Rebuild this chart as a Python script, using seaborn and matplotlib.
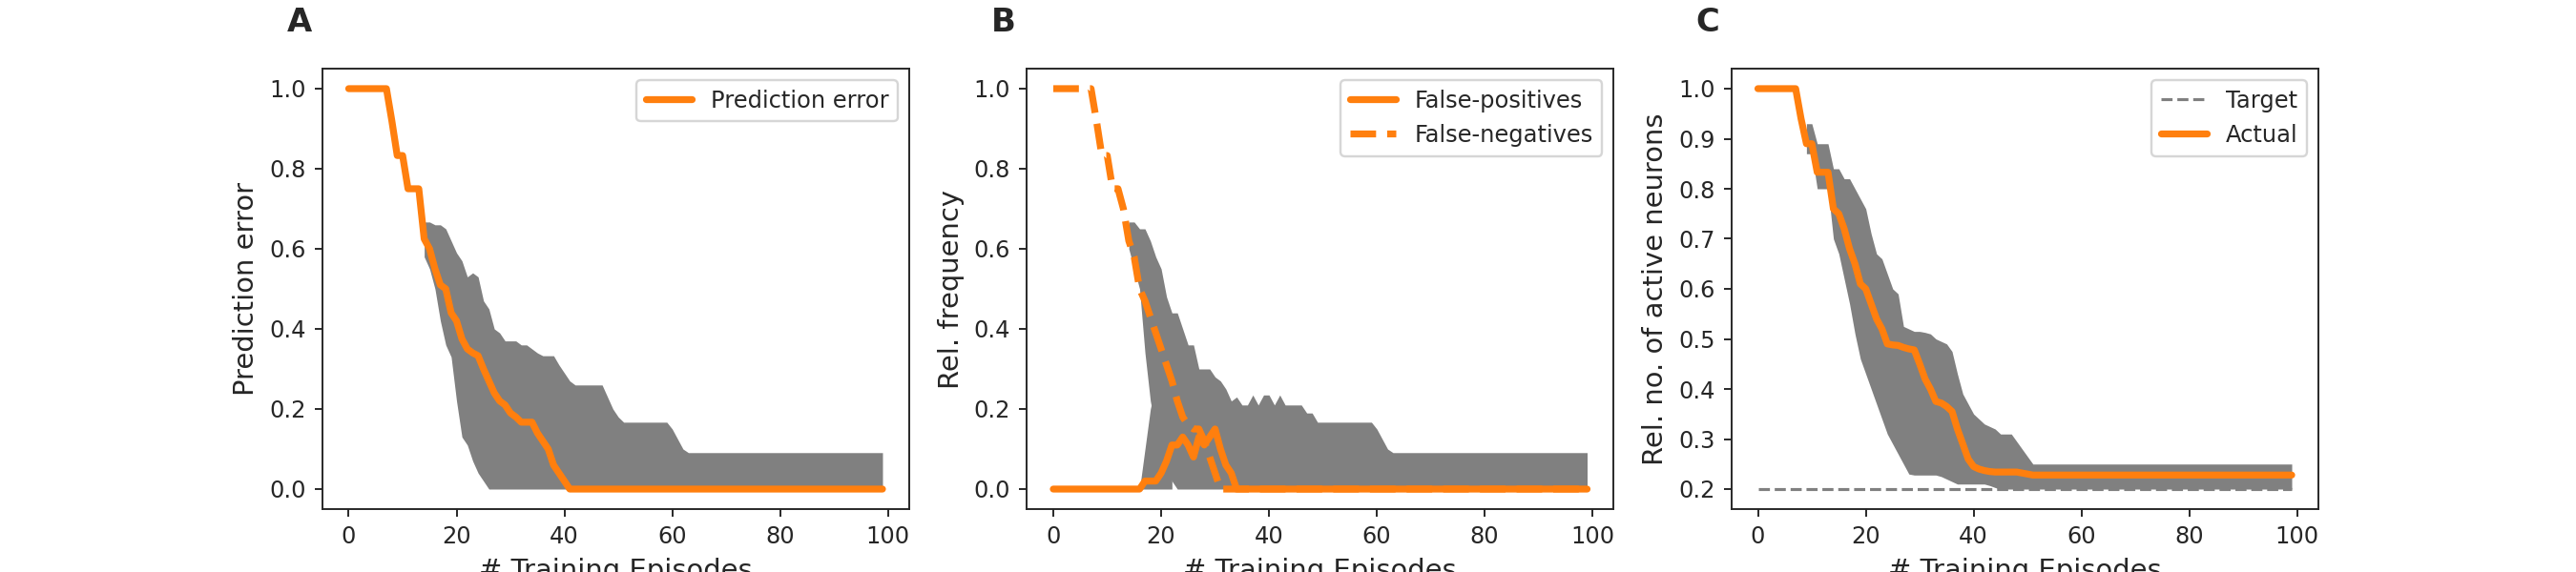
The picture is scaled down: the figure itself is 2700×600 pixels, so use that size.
import numpy as np
import matplotlib
matplotlib.use("Agg")
import matplotlib.pyplot as plt
import seaborn as sns

episodes = list(range(100))

# Panel A
pred_mean = [1.0]*8 + [0.92, 0.833, 0.833, 0.75, 0.75, 0.75] + \
    [0.625, 0.6, 0.55, 0.51, 0.5, 0.44, 0.42, 0.375, 0.35, 0.34, 0.333, 0.3, 0.27, 0.24,
     0.22, 0.21, 0.19, 0.18, 0.167, 0.167, 0.167, 0.14, 0.12, 0.1, 0.06, 0.04, 0.02] + [0.0]*59
a_band_start = 14
pred_hi = [0.667, 0.667, 0.66, 0.66, 0.65, 0.62, 0.59, 0.57, 0.53, 0.54, 0.53, 0.47, 0.45, 0.40,
           0.39, 0.37, 0.37, 0.37, 0.36, 0.36, 0.35, 0.34, 0.333, 0.333, 0.333, 0.31, 0.29, 0.27] + \
    [0.26]*6 + [0.23, 0.2, 0.18] + [0.167]*9 + [0.15, 0.125, 0.1] + [0.091]*37
pred_lo = [0.58, 0.55, 0.5, 0.42, 0.36, 0.33, 0.22, 0.13, 0.11, 0.07, 0.04, 0.02] + [0.0]*74

# Panel B
fp_mean = [0.0]*17 + [0.02, 0.02, 0.02, 0.04, 0.07, 0.11, 0.11, 0.13, 0.11, 0.08, 0.13, 0.11,
                      0.13, 0.15, 0.1, 0.06, 0.04] + [0.0]*66
fn_mean = [1.0]*8 + [0.92, 0.833, 0.833, 0.75, 0.75, 0.7, 0.62, 0.58, 0.5, 0.47, 0.43, 0.39, 0.35,
                     0.31, 0.27, 0.22, 0.18, 0.16, 0.15, 0.15, 0.12, 0.08, 0.04] + [0.0]*69
b_band_start = 14
fn_hi = [0.667, 0.667, 0.65, 0.65, 0.62, 0.58, 0.55, 0.48, 0.44, 0.44, 0.4, 0.36, 0.36, 0.3, 0.3,
         0.3, 0.28, 0.27, 0.25, 0.22, 0.23, 0.21, 0.21, 0.235, 0.21, 0.235, 0.235, 0.21, 0.235, 0.21] + \
    [0.21]*3 + [0.19, 0.19] + [0.167]*11 + [0.15, 0.125, 0.1] + [0.091]*37
fn_lo = [0.6, 0.55, 0.5, 0.34, 0.22, 0.15, 0.1, 0.05, 0.02] + [0.0]*77
fp_band_start = 16
fp_hi = [0.0, 0.1, 0.2, 0.26, 0.3, 0.3, 0.3]
fp_lo = [0.0]*7

# Panel C
act_mean = [1.0]*8 + [0.94, 0.89, 0.89, 0.833, 0.833, 0.833, 0.76, 0.75, 0.72, 0.68, 0.65, 0.61, 0.6,
                      0.57, 0.54, 0.52, 0.49, 0.488, 0.487, 0.483, 0.48, 0.478, 0.45, 0.42, 0.4, 0.375,
                      0.372, 0.365, 0.355, 0.32, 0.29, 0.26, 0.245, 0.24, 0.237, 0.235] + \
    [0.234]*5 + [0.232, 0.23] + [0.228]*49
c_band_start = 9
act_hi = [0.93, 0.93, 0.89, 0.89, 0.89, 0.84, 0.84, 0.82, 0.82, 0.8, 0.78, 0.76, 0.71, 0.67, 0.66,
          0.63, 0.6, 0.59, 0.525, 0.52, 0.515, 0.515, 0.513, 0.51, 0.5, 0.495, 0.49, 0.475, 0.43,
          0.39, 0.37, 0.35, 0.34, 0.33, 0.325, 0.32] + [0.31]*3 + [0.295, 0.28, 0.265, 0.25] + [0.25]*48
act_lo = [0.87, 0.87, 0.8, 0.8, 0.8, 0.7, 0.67, 0.62, 0.57, 0.51, 0.46, 0.43, 0.4, 0.37, 0.34, 0.31,
          0.29, 0.27, 0.25, 0.23] + [0.228]*5 + [0.225, 0.22, 0.215] + [0.21]*6 + [0.207, 0.203] + [0.2]*55
target = [0.2]*100

sns.set_style("ticks")
plt.rcParams['font.family'] = ['DejaVu Sans']
orange = '#ff7f0e'
gray = '#808080'

fig, axes = plt.subplots(1, 3, figsize=(2700/174, 600/174), dpi=174)
fig.subplots_adjust(left=0.125, right=0.9, bottom=0.11, top=0.88, wspace=0.2)

x = np.array(episodes)

ax = axes[0]
ax.fill_between(x[a_band_start:], pred_lo, pred_hi, color=gray, lw=0)
sns.lineplot(x=x, y=pred_mean, ax=ax, color=orange, lw=3, label='Prediction error')
ax.set_ylabel('Prediction error', fontsize=12)

ax = axes[1]
ax.fill_between(x[b_band_start:], fn_lo, fn_hi, color=gray, lw=0)
ax.fill_between(x[fp_band_start:fp_band_start+len(fp_hi)], fp_lo, fp_hi, color=gray, lw=0)
sns.lineplot(x=x, y=fp_mean, ax=ax, color=orange, lw=3, label='False-positives')
sns.lineplot(x=x, y=fn_mean, ax=ax, color=orange, lw=3, linestyle='--', label='False-negatives')
ax.set_ylabel('Rel. frequency', fontsize=12)

ax = axes[2]
ax.fill_between(x[c_band_start:], act_lo, act_hi, color=gray, lw=0)
sns.lineplot(x=x, y=target, ax=ax, color=gray, lw=1.3, linestyle='--', label='Target')
sns.lineplot(x=x, y=act_mean, ax=ax, color=orange, lw=3, label='Actual')
ax.set_ylabel('Rel. no. of active neurons', fontsize=12)

for ax, letter in zip(axes, ['A', 'B', 'C']):
    ax.set_xlabel('# Training Episodes', fontsize=12)
    ax.set_xticks([0, 20, 40, 60, 80, 100])
    ax.tick_params(labelsize=10)
    ax.legend(loc='upper right', fontsize=10)
    ax.text(-0.06, 1.07, letter, transform=ax.transAxes, fontsize=14, fontweight='bold', va='bottom')

fig.savefig('out.png', dpi=174)
